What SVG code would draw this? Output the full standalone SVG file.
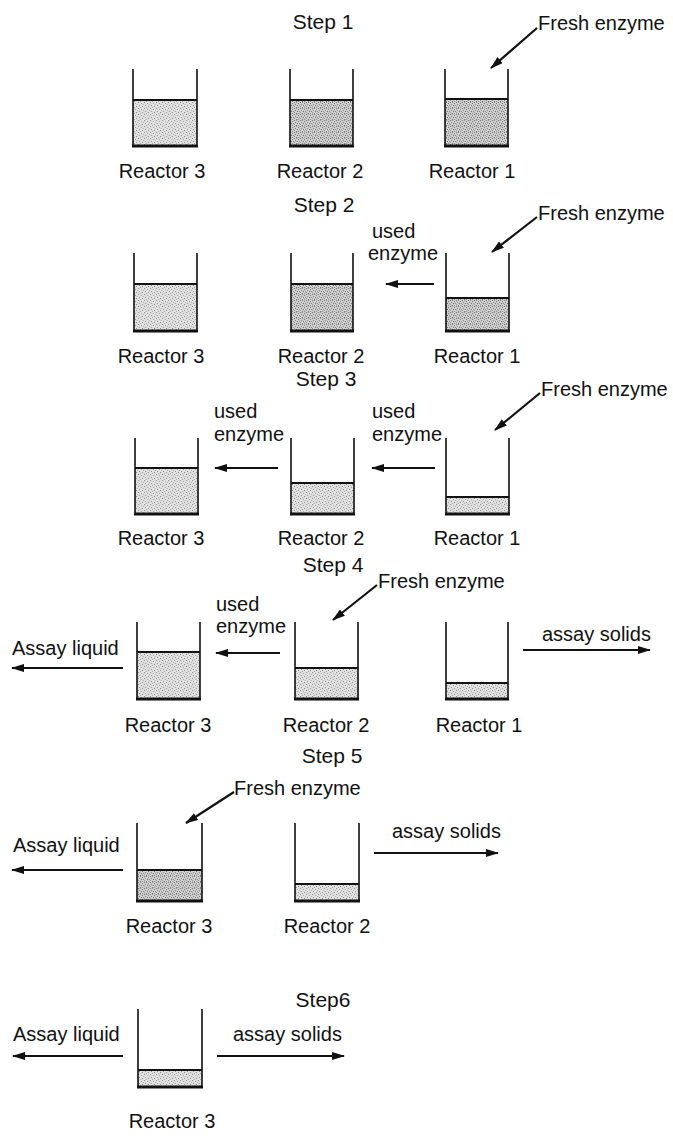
<svg xmlns="http://www.w3.org/2000/svg" width="673" height="1139" viewBox="0 0 673 1139">
  <defs>
    <!-- stippled liquid fills -->
    <pattern id="stipLight" width="6" height="6" patternUnits="userSpaceOnUse">
      <rect width="6" height="6" fill="#e0e0e0"/>
      <rect x="0" y="0" width="1" height="1" fill="#8c8c8c"/>
      <rect x="3" y="1" width="1" height="1" fill="#a0a0a0"/>
      <rect x="1" y="3" width="1" height="1" fill="#959595"/>
      <rect x="4" y="4" width="1" height="1" fill="#8c8c8c"/>
      <rect x="5" y="2" width="1" height="1" fill="#b0b0b0"/>
      <rect x="2" y="5" width="1" height="1" fill="#a8a8a8"/>
    </pattern>
    <pattern id="stipDark" width="6" height="6" patternUnits="userSpaceOnUse">
      <rect width="6" height="6" fill="#cfcfcf"/>
      <rect x="0" y="0" width="1" height="1" fill="#6e6e6e"/>
      <rect x="2" y="0" width="1" height="1" fill="#8a8a8a"/>
      <rect x="4" y="1" width="1" height="1" fill="#777"/>
      <rect x="1" y="2" width="1" height="1" fill="#808080"/>
      <rect x="3" y="3" width="1" height="1" fill="#6e6e6e"/>
      <rect x="5" y="3" width="1" height="1" fill="#8a8a8a"/>
      <rect x="0" y="4" width="1" height="1" fill="#909090"/>
      <rect x="2" y="5" width="1" height="1" fill="#777"/>
      <rect x="4" y="5" width="1" height="1" fill="#858585"/>
    </pattern>
    <marker id="head" markerUnits="userSpaceOnUse" markerWidth="13" markerHeight="8" refX="12" refY="4" orient="auto">
      <path d="M0,0 L13,4 L0,8 z" fill="#111"/>
    </marker>
  </defs>
  <style>
    text { font-family: "Liberation Sans", Arial, sans-serif; fill: #111; }
    .title { font-size: 21px; text-anchor: middle; }
    .lbl { font-size: 20px; text-anchor: middle; }
    .note { font-size: 20px; }
    .wall { fill: none; stroke: #111; stroke-width: 1.6; }
    .base { stroke: #111; stroke-width: 2.8; }
    .surf { stroke: #111; stroke-width: 2; }
    .light { fill: url(#stipLight); }
    .dark { fill: url(#stipDark); }
    .flow { stroke: #111; stroke-width: 2; fill: none; marker-end: url(#head); }
    .feed { stroke: #111; stroke-width: 2.2; fill: none; marker-end: url(#head); }
  </style>

  <rect width="673" height="1139" fill="#fff"/>

  <!-- step titles -->
  <g id="titles">
    <text class="title" x="323" y="29">Step 1</text>
    <text class="title" x="324" y="212">Step 2</text>
    <text class="title" x="326" y="386">Step 3</text>
    <text class="title" x="333" y="572">Step 4</text>
    <text class="title" x="332" y="763">Step 5</text>
    <text class="title" x="323" y="1007">Step6</text>
  </g>

  <!-- Step 1 -->
  <g id="s1-r3">
    <rect class="light" x="133" y="100" width="64" height="46"/>
    <path class="wall" d="M133,69 V146 M197,69 V146"/>
    <line class="surf" x1="133" y1="100" x2="197" y2="100"/>
    <line class="base" x1="132" y1="146" x2="198" y2="146"/>
    <text class="lbl" x="162" y="178">Reactor 3</text>
  </g>
  <g id="s1-r2">
    <rect class="dark" x="290" y="100" width="63" height="46"/>
    <path class="wall" d="M290,69 V146 M353,69 V146"/>
    <line class="surf" x1="290" y1="100" x2="353" y2="100"/>
    <line class="base" x1="289" y1="146" x2="354" y2="146"/>
    <text class="lbl" x="320" y="178">Reactor 2</text>
  </g>
  <g id="s1-r1">
    <rect class="dark" x="445" y="99" width="63" height="47"/>
    <path class="wall" d="M445,69 V146 M508,69 V146"/>
    <line class="surf" x1="445" y1="99" x2="508" y2="99"/>
    <line class="base" x1="444" y1="146" x2="509" y2="146"/>
    <text class="lbl" x="472" y="178">Reactor 1</text>
  </g>

  <!-- Step 2 -->
  <g id="s2-r3">
    <rect class="light" x="134" y="284" width="63" height="47"/>
    <path class="wall" d="M134,253 V331 M197,253 V331"/>
    <line class="surf" x1="134" y1="284" x2="197" y2="284"/>
    <line class="base" x1="133" y1="331" x2="198" y2="331"/>
    <text class="lbl" x="161" y="363">Reactor 3</text>
  </g>
  <g id="s2-r2">
    <rect class="dark" x="291" y="284" width="62" height="47"/>
    <path class="wall" d="M291,253 V331 M353,253 V331"/>
    <line class="surf" x1="291" y1="284" x2="353" y2="284"/>
    <line class="base" x1="290" y1="331" x2="354" y2="331"/>
    <text class="lbl" x="321" y="363">Reactor 2</text>
  </g>
  <g id="s2-r1">
    <rect class="dark" x="446" y="298" width="63" height="33"/>
    <path class="wall" d="M446,253 V331 M509,253 V331"/>
    <line class="surf" x1="446" y1="298" x2="509" y2="298"/>
    <line class="base" x1="445" y1="331" x2="510" y2="331"/>
    <text class="lbl" x="477" y="363">Reactor 1</text>
  </g>

  <!-- Step 3 -->
  <g id="s3-r3">
    <rect class="light" x="135" y="468" width="63" height="46"/>
    <path class="wall" d="M135,438 V514 M198,438 V514"/>
    <line class="surf" x1="135" y1="468" x2="198" y2="468"/>
    <line class="base" x1="134" y1="514" x2="199" y2="514"/>
    <text class="lbl" x="161" y="545">Reactor 3</text>
  </g>
  <g id="s3-r2">
    <rect class="light" x="291" y="483" width="63" height="31"/>
    <path class="wall" d="M291,438 V514 M354,438 V514"/>
    <line class="surf" x1="291" y1="483" x2="354" y2="483"/>
    <line class="base" x1="290" y1="514" x2="355" y2="514"/>
    <text class="lbl" x="321" y="545">Reactor 2</text>
  </g>
  <g id="s3-r1">
    <rect class="light" x="446" y="497" width="63" height="17"/>
    <path class="wall" d="M446,438 V514 M509,438 V514"/>
    <line class="surf" x1="446" y1="497" x2="509" y2="497"/>
    <line class="base" x1="445" y1="514" x2="510" y2="514"/>
    <text class="lbl" x="477" y="545">Reactor 1</text>
  </g>

  <!-- Step 4 -->
  <g id="s4-r3">
    <rect class="light" x="137" y="652" width="63" height="47"/>
    <path class="wall" d="M137,622 V699 M200,622 V699"/>
    <line class="surf" x1="137" y1="652" x2="200" y2="652"/>
    <line class="base" x1="136" y1="699" x2="201" y2="699"/>
    <text class="lbl" x="168" y="732">Reactor 3</text>
  </g>
  <g id="s4-r2">
    <rect class="light" x="295" y="668" width="63" height="31"/>
    <path class="wall" d="M295,622 V699 M358,622 V699"/>
    <line class="surf" x1="295" y1="668" x2="358" y2="668"/>
    <line class="base" x1="294" y1="699" x2="359" y2="699"/>
    <text class="lbl" x="326" y="732">Reactor 2</text>
  </g>
  <g id="s4-r1">
    <rect class="light" x="446" y="683" width="62" height="16"/>
    <path class="wall" d="M446,622 V699 M508,622 V699"/>
    <line class="surf" x1="446" y1="683" x2="508" y2="683"/>
    <line class="base" x1="445" y1="699" x2="509" y2="699"/>
    <text class="lbl" x="479" y="732">Reactor 1</text>
  </g>

  <!-- Step 5 -->
  <g id="s5-r3">
    <rect class="dark" x="137" y="870" width="65" height="31"/>
    <path class="wall" d="M137,823 V901 M202,823 V901"/>
    <line class="surf" x1="137" y1="870" x2="202" y2="870"/>
    <line class="base" x1="136" y1="901" x2="203" y2="901"/>
    <text class="lbl" x="169" y="933">Reactor 3</text>
  </g>
  <g id="s5-r2">
    <rect class="light" x="295" y="884" width="64" height="17"/>
    <path class="wall" d="M295,823 V901 M359,823 V901"/>
    <line class="surf" x1="295" y1="884" x2="359" y2="884"/>
    <line class="base" x1="294" y1="901" x2="360" y2="901"/>
    <text class="lbl" x="327" y="933">Reactor 2</text>
  </g>

  <!-- Step 6 -->
  <g id="s6-r3">
    <rect class="light" x="138" y="1070" width="64" height="17"/>
    <path class="wall" d="M138,1009 V1087 M202,1009 V1087"/>
    <line class="surf" x1="138" y1="1070" x2="202" y2="1070"/>
    <line class="base" x1="137" y1="1087" x2="203" y2="1087"/>
    <text class="lbl" x="172" y="1128">Reactor 3</text>
  </g>

  <!-- flows between and out of the reactors -->
  <g id="connectors">
    <!-- fresh enzyme feeds -->
    <text class="note" x="538" y="30">Fresh enzyme</text>
    <line class="feed" x1="537" y1="28" x2="491" y2="68"/>
    <text class="note" x="538" y="220">Fresh enzyme</text>
    <line class="feed" x1="537" y1="217" x2="492" y2="252"/>
    <text class="note" x="541" y="396">Fresh enzyme</text>
    <line class="feed" x1="540" y1="393" x2="495" y2="430"/>
    <text class="note" x="378" y="588">Fresh enzyme</text>
    <line class="feed" x1="377" y1="585" x2="333" y2="620"/>
    <text class="note" x="234" y="795">Fresh enzyme</text>
    <line class="feed" x1="234" y1="792" x2="186" y2="823"/>

    <!-- used enzyme transfers -->
    <text class="note" x="372" y="238">used</text>
    <text class="note" x="368" y="260">enzyme</text>
    <line class="flow" x1="434" y1="284" x2="386" y2="284"/>

    <text class="note" x="214" y="418">used</text>
    <text class="note" x="214" y="441">enzyme</text>
    <line class="flow" x1="278" y1="468" x2="215" y2="468"/>
    <text class="note" x="372" y="418">used</text>
    <text class="note" x="372" y="441">enzyme</text>
    <line class="flow" x1="435" y1="468" x2="372" y2="468"/>

    <text class="note" x="216" y="611">used</text>
    <text class="note" x="216" y="633">enzyme</text>
    <line class="flow" x1="280" y1="653" x2="216" y2="653"/>

    <!-- assay outputs -->
    <text class="note" x="12" y="655">Assay liquid</text>
    <line class="flow" x1="123" y1="668" x2="12" y2="668"/>
    <text class="note" x="542" y="641">assay solids</text>
    <line class="flow" x1="523" y1="650" x2="650" y2="650"/>

    <text class="note" x="13" y="852">Assay liquid</text>
    <line class="flow" x1="123" y1="870" x2="12" y2="870"/>
    <text class="note" x="392" y="838">assay solids</text>
    <line class="flow" x1="374" y1="853" x2="498" y2="853"/>

    <text class="note" x="13" y="1041">Assay liquid</text>
    <line class="flow" x1="123" y1="1056" x2="13" y2="1056"/>
    <text class="note" x="233" y="1041">assay solids</text>
    <line class="flow" x1="217" y1="1056" x2="344" y2="1056"/>
  </g>
</svg>
